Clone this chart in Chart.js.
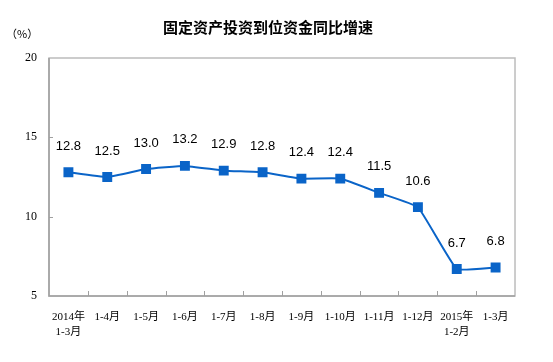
<!DOCTYPE html>
<html><head><meta charset="utf-8">
<script src="https://cdn.jsdelivr.net/npm/chart.js@4"></script>
<style>html,body{margin:0;padding:0;background:#fff}#wrap{width:553px;height:362px}</style>
</head><body><div id="wrap"><canvas id="c" width="553" height="362"></canvas></div>
<script>
const chartTitle = '固定资产投资到位资金同比增速';
const unitLabel = '（%）';
const categories = [['2014年','1-3月'],'1-4月','1-5月','1-6月','1-7月','1-8月','1-9月','1-10月','1-11月','1-12月',['2015年','1-2月'],'1-3月'];
const growth = [12.8,12.5,13.0,13.2,12.9,12.8,12.4,12.4,11.5,10.6,6.7,6.8];
const yTicks = [5,10,15,20];

const lineColor = '#0a64c8';
const serif = '"Liberation Serif","Noto Sans CJK SC",serif';

const decor = {
  id:'decor',
  afterDraw(chart){
    const {ctx, chartArea:a, scales:{x,y}} = chart;
    ctx.save();
    // box
    ctx.strokeStyle='#bcbcbc'; ctx.lineWidth=1.5;
    ctx.strokeRect(a.left, a.top, a.right-a.left, a.bottom-a.top);
    ctx.strokeStyle='#a0a0a0';
    ctx.beginPath(); ctx.moveTo(a.left, a.top); ctx.lineTo(a.left, a.bottom); ctx.lineTo(a.right, a.bottom); ctx.stroke();
    // x ticks inside at category boundaries
    const n = categories.length;
    const half = (x.getPixelForValue(1)-x.getPixelForValue(0))/2;
    ctx.beginPath();
    for(let i=1;i<n;i++){
      const px = Math.round(x.getPixelForValue(i) - half)+0.5;
      ctx.moveTo(px, a.bottom); ctx.lineTo(px, a.bottom-5);
    }
    // y ticks inside
    yTicks.forEach(v=>{
      if(v===y.min||v===y.max) return;
      const py = Math.round(y.getPixelForValue(v))+0.5;
      ctx.moveTo(a.left, py); ctx.lineTo(a.left+4, py);
    });
    ctx.lineWidth=1; ctx.strokeStyle='#a0a0a0'; ctx.stroke();
    // title
    ctx.fillStyle='#000';
    ctx.font='bold 15px "Noto Sans CJK SC",sans-serif';
    ctx.textAlign='center'; ctx.textBaseline='middle';
    ctx.fillText(chartTitle, 268, 27);
    ctx.font='11px "Noto Sans CJK SC",sans-serif';
    ctx.textAlign='left';
    ctx.fillText(unitLabel, 6, 34);
    // data labels
    const meta = chart.getDatasetMeta(0);
    ctx.font='13px "Liberation Sans",Arial,sans-serif';
    ctx.textAlign='center'; ctx.textBaseline='middle';
    meta.data.forEach((p,i)=>{
      ctx.fillText(growth[i].toFixed(1), p.x, p.y-26);
    });
    ctx.restore();
  }
};

new Chart(document.getElementById('c'), {
  type:'line',
  data:{labels:categories, datasets:[{
    data:growth, borderColor:lineColor, backgroundColor:lineColor,
    borderWidth:2, pointStyle:'rect', pointRadius:5.6, pointHoverRadius:5.6,
    tension:0.1
  }]},
  options:{
    responsive:false, animation:false, devicePixelRatio:1,
    layout:{padding:{top:58, right:38, left:0, bottom:0}},
    plugins:{legend:{display:false}, tooltip:{enabled:false}, title:{display:false}},
    scales:{
      x:{
        offset:true,
        grid:{display:false, drawTicks:false},
        border:{display:false},
        ticks:{color:'#000', font:{family:serif, size:11, lineHeight:1.4}, maxRotation:0, autoSkip:false, padding:13},
        afterFit(s){ s.height = 66; }
      },
      y:{
        min:5, max:20,
        afterBuildTicks(s){ s.ticks = yTicks.map(v=>({value:v})); },
        grid:{display:false, drawTicks:false},
        border:{display:false},
        ticks:{color:'#000', font:{family:serif, size:12}, padding:12},
        afterFit(s){ s.width = 49; }
      }
    }
  },
  plugins:[decor]
});
</script></body></html>
